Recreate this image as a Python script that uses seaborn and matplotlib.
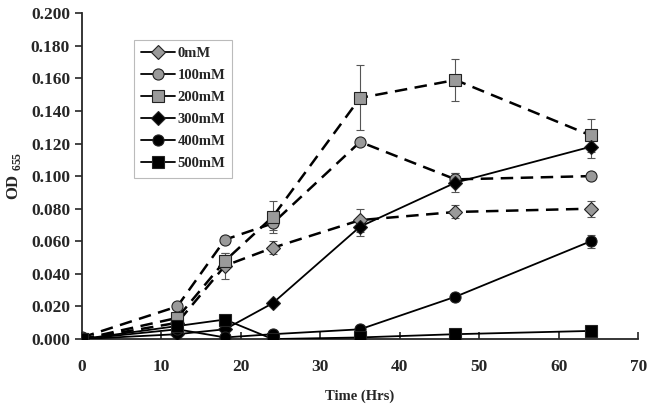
import pandas as pd
import matplotlib
matplotlib.use("Agg")
import matplotlib.pyplot as plt
import seaborn as sns

# --- datos ---
tiempo = [0, 12, 18, 24, 35, 47, 64]
concentraciones = ["0mM", "100mM", "200mM", "300mM", "400mM", "500mM"]

od_0 = [0.000, 0.010, 0.045, 0.056, 0.073, 0.078, 0.080]
od_100 = [0.001, 0.020, 0.061, 0.071, 0.121, 0.098, 0.100]
od_200 = [0.000, 0.013, 0.048, 0.075, 0.148, 0.159, 0.125]
od_300 = [0.000, 0.003, 0.006, 0.022, 0.069, 0.096, 0.118]
od_400 = [0.000, 0.006, 0.001, 0.003, 0.006, 0.026, 0.060]
od_500 = [0.000, 0.008, 0.012, 0.000, 0.001, 0.003, 0.005]

err_0 = [0.000, 0.001, 0.008, 0.004, 0.007, 0.004, 0.005]
err_100 = [0.000, 0.001, 0.002, 0.004, 0.002, 0.004, 0.002]
err_200 = [0.000, 0.002, 0.005, 0.010, 0.020, 0.013, 0.010]
err_300 = [0.000, 0.000, 0.001, 0.002, 0.006, 0.006, 0.007]
err_400 = [0.000, 0.000, 0.000, 0.000, 0.001, 0.002, 0.004]
err_500 = [0.000, 0.000, 0.000, 0.000, 0.000, 0.001, 0.001]

valores = [od_0, od_100, od_200, od_300, od_400, od_500]
errores = [err_0, err_100, err_200, err_300, err_400, err_500]

marcadores = ["D", "o", "s", "D", "o", "s"]
colores = ["#9a9a9a", "#9a9a9a", "#9a9a9a", "black", "black", "black"]
estilos = ["--", "--", "--", "-", "-", "-"]

filas = []
for conc, vals in zip(concentraciones, valores):
    for t, v in zip(tiempo, vals):
        filas.append({"Tiempo": t, "OD": v, "Conc": conc})
df = pd.DataFrame(filas)

sns.set_style("ticks")
plt.rcParams["font.family"] = ["Liberation Serif", "DejaVu Serif"]
plt.rcParams["font.weight"] = "bold"
plt.rcParams["mathtext.fontset"] = "custom"
plt.rcParams["mathtext.rm"] = "Liberation Serif:bold"
plt.rcParams["mathtext.bf"] = "Liberation Serif:bold"

fig = plt.figure(figsize=(6.5, 4.11), dpi=100)
ax = fig.add_axes([0.126, 0.175, 0.856, 0.793])

for i, conc in enumerate(concentraciones):
    sub = df[df["Conc"] == conc]
    ax.errorbar(tiempo, valores[i], yerr=errores[i], fmt="none",
                ecolor="#555555", elinewidth=0.8, capsize=3, capthick=0.8, zorder=1)
    sns.lineplot(data=sub, x="Tiempo", y="OD", ax=ax, color="black",
                 linestyle=estilos[i], linewidth=1.8 if estilos[i] == "--" else 1.3,
                 marker=marcadores[i], markersize=8 if marcadores[i] != "D" else 7,
                 markerfacecolor=colores[i], markeredgecolor="#222222",
                 markeredgewidth=0.8, label=conc, zorder=2 + i)
    if estilos[i] == "--":
        ax.lines[-1].set_dashes([5, 3])

ax.set_xlim(0, 70)
ax.set_ylim(0, 0.2)
ax.set_xticks(range(0, 71, 10))
ax.set_yticks([i * 0.02 for i in range(11)])
ax.set_yticklabels([f"{i * 0.02:.3f}" for i in range(11)])
ax.tick_params(axis="x", direction="in", length=5, width=1.2, labelsize=12.5, pad=14)
ax.tick_params(axis="y", direction="out", length=5, width=1.2, labelsize=12.5)
for lbl in ax.get_xticklabels() + ax.get_yticklabels():
    lbl.set_fontweight("bold")
sns.despine(ax=ax)
ax.spines["left"].set_linewidth(1.3)
ax.spines["bottom"].set_linewidth(1.3)

ax.set_xlabel("Time (Hrs)", fontsize=10.5, fontweight="bold", labelpad=11)
ax.set_ylabel(r"OD $_{655}$", fontsize=12, fontweight="bold", labelpad=6)

leg = ax.legend(loc="upper left", bbox_to_anchor=(0.08, 0.94), frameon=True,
                fancybox=False, edgecolor="#aaaaaa", fontsize=10.5,
                handlelength=2.3, handletextpad=0.2, labelspacing=0.6, borderpad=0.5)
leg.get_frame().set_linewidth(0.8)
for h in leg.get_lines():
    h.set_linestyle("-")
    h.set_linewidth(1.3)
for txt in leg.get_texts():
    txt.set_fontweight("bold")

fig.savefig("out.png", dpi=100)
